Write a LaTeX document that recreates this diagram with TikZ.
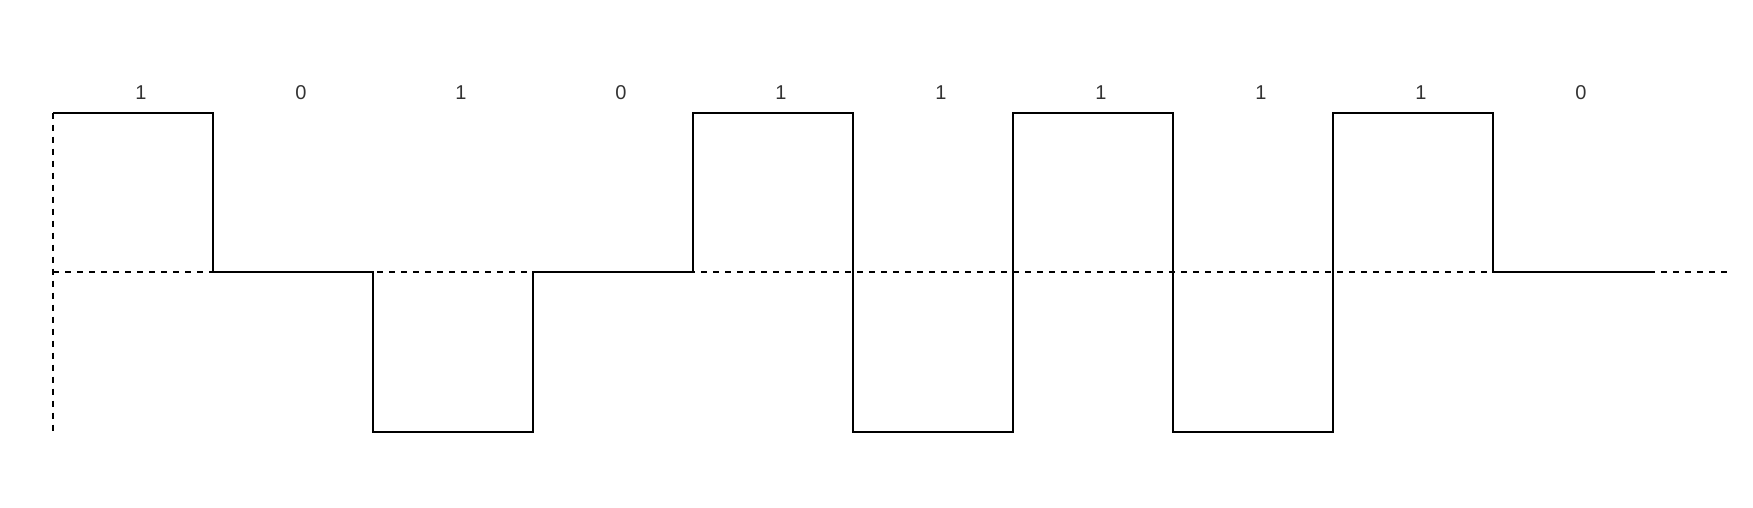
\documentclass[tikz,border=0pt]{standalone}
\usepackage{fontspec}
\setmainfont{Liberation Sans}
\begin{document}
\begin{tikzpicture}[x=1pt,y=-1pt,
  sig/.style={line width=2pt,line join=miter},
  guide/.style={line width=2pt,dash pattern=on 6pt off 6pt},
  bitlabel/.style={font=\fontsize{20}{24}\selectfont,text=black!80,inner sep=0pt,anchor=base}]
\useasboundingbox (0,0) rectangle (1753,507);
% levels
\def\yt{112.5}\def\ym{272.3}\def\yb{432}
% guides
\coordinate (vtop) at (53,\yt);
\coordinate (vbot) at (53,\yb);
\coordinate (hl) at (53,\ym);
\coordinate (hr) at (1727,\ym);
\draw[guide] (vtop) -- (vbot);
\draw[guide] (hl) -- (hr);
% signal
\draw[sig] (53,\yt) -- (213,\yt) -- (213,\ym) -- (373,\ym) -- (373,\yb) -- (533,\yb)
  -- (533,\ym) -- (693,\ym) -- (693,\yt) -- (853,\yt) -- (853,\yb) -- (1013,\yb)
  -- (1013,\yt) -- (1173,\yt) -- (1173,\yb) -- (1333,\yb) -- (1333,\yt) -- (1493,\yt)
  -- (1493,\ym) -- (1653,\ym);
% labels
\foreach \b [count=\i from 0] in {1,0,1,0,1,1,1,1,1,0}{
  \node[bitlabel] (l\i) at ({53+160*\i+88},99) {\b};
}
\end{tikzpicture}
\end{document}
